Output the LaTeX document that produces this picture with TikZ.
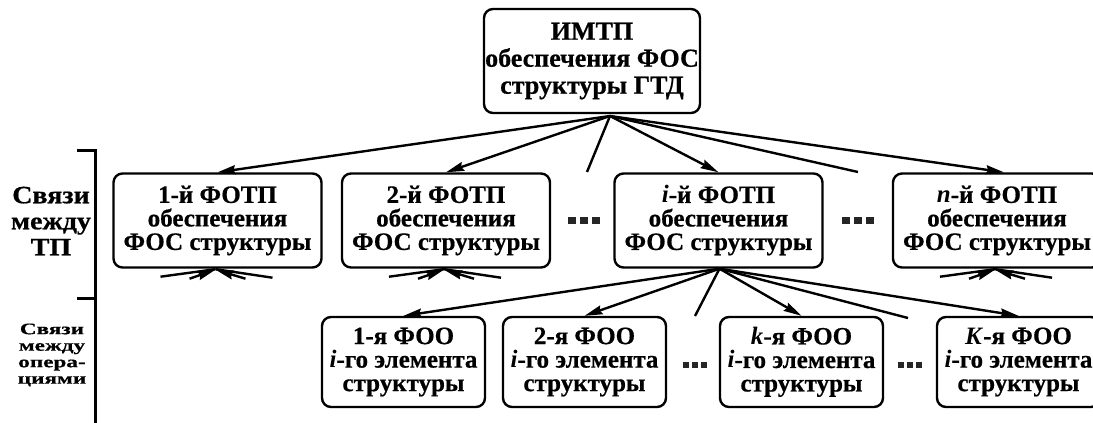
\documentclass[tikz,border=0pt]{standalone}
\usepackage{fontspec}
\setmainfont[BoldFeatures={FakeBold=0.6}]{Liberation Serif}
\newfontfamily\widefont[FakeStretch=1.45,BoldFeatures={FakeBold=0.6}]{Liberation Serif}
\newfontfamily\midfont[FakeStretch=1.12,BoldFeatures={FakeBold=0.6}]{Liberation Serif}
\usetikzlibrary{arrows.meta,calc}
\begin{document}
\begin{tikzpicture}[x=1pt,y=-1pt,
  box/.style={draw, line width=2.4pt, rounded corners=9pt, align=center, inner sep=0pt,
    font=\bfseries\fontsize{25}{23.5}\selectfont},
  lvlone/.style={box, minimum width=208pt, minimum height=94pt},
  lvltwo/.style={box, minimum width=163pt, minimum height=90pt},
  conn/.style={line width=2.4pt, -{Stealth[length=18pt,width=9pt,inset=2pt]}},
  stub/.style={line width=2.4pt},
  dotsq/.style={fill=black!85},
  sidelbl/.style={align=center, inner sep=0pt}]
\clip (0,0) rectangle (1093,423);
\useasboundingbox (0,0) rectangle (1093,423);

% top
\node[box, minimum width=216pt, minimum height=104pt, font=\bfseries\fontsize{26}{27}\selectfont] (top) at (592,61)
  {ИМТП\\обеспечения ФОС\\структуры ГТД};
\coordinate (tapex) at (610,116);

% level 1
\node[lvlone] (b1) at (217.5,220.5) {1-й ФОТП\\обеспечения\\ФОС структуры};
\node[lvlone] (b2) at (446,220.5) {2-й ФОТП\\обеспечения\\ФОС структуры};
\node[lvlone] (bi) at (718.5,220.5) {\textit{i}-й ФОТП\\обеспечения\\ФОС структуры};
\node[lvlone] (bn) at (997,220.5) {\textit{n}-й ФОТП\\обеспечения\\ФОС структуры};

% level 2
\node[lvltwo] (f1) at (403.5,362) {1-я ФОО\\\textit{i}-го элемента\\структуры};
\node[lvltwo] (f2) at (584.5,362) {2-я ФОО\\\textit{i}-го элемента\\структуры};
\node[lvltwo] (fk) at (801.5,362) {\textit{k}-я ФОО\\\textit{i}-го элемента\\структуры};
\node[lvltwo] (fK) at (1018.5,362) {\textit{K}-я ФОО\\\textit{i}-го элемента\\структуры};

% arrows from top
\coordinate (s1) at (587,172);
\coordinate (s2) at (858,172);
\draw[conn] (tapex) -- (b1.north);
\draw[conn] (tapex) -- (b2.north);
\draw[stub] (tapex) -- (s1);
\draw[conn] (tapex) -- (bi.north);
\draw[stub] (tapex) -- (s2);
\draw[conn] (tapex) -- ($(bn.north)+(7,0)$);

% arrows from i-th
\coordinate (iapex) at ($(bi.south)+(1,0)$);
\coordinate (s3) at (695,316);
\coordinate (s4) at (908,318);
\draw[conn] (iapex) -- (f1.north);
\draw[conn] (iapex) -- (f2.north);
\draw[stub] (iapex) -- (s3);
\draw[conn] (iapex) -- (fk.north);
\draw[stub] (iapex) -- (s4);
\draw[conn] (iapex) -- (fK.north);

% converging fans under level-1 boxes
\foreach \b in {b1,b2,bn}{
  \draw[stub] ($(\b.south)+(-57,8)$) -- ($(\b.south)+(-2,0.5)$);
  \draw[stub] ($(\b.south)+(55,9)$) -- ($(\b.south)+(-2,0.5)$);
  \draw[conn] ($(\b.south)+(-28,10)$) -- ($(\b.south)+(-2,1)$);
  \draw[conn] ($(\b.south)+(28,10)$) -- ($(\b.south)+(-2,1)$);
}

% dots
\foreach \x in {568,580,592}{\fill[dotsq] (\x,216.5) rectangle ++(7.5,7.5);}
\foreach \x in {842,854,866}{\fill[dotsq] (\x,216.5) rectangle ++(7.5,7.5);}
\foreach \x in {683,692,701}{\fill[dotsq] (\x,362) rectangle ++(6,6);}
\foreach \x in {898,907,916}{\fill[dotsq] (\x,362) rectangle ++(6,6);}

% side bracket
\draw[line width=3pt] (77,150) -- (95,150) -- (95,423);
\draw[line width=3pt] (77,298) -- (95,298);

% side labels
\node[sidelbl, font=\midfont\bfseries\fontsize{25}{26}\selectfont] (lbltp) at (51,221) {Связи\\между\\ТП};
\node[sidelbl, font=\widefont\bfseries\fontsize{16}{16.5}\selectfont] (lblop) at (52,355) {Связи\\между\\опера-\\циями};
\end{tikzpicture}
\end{document}
